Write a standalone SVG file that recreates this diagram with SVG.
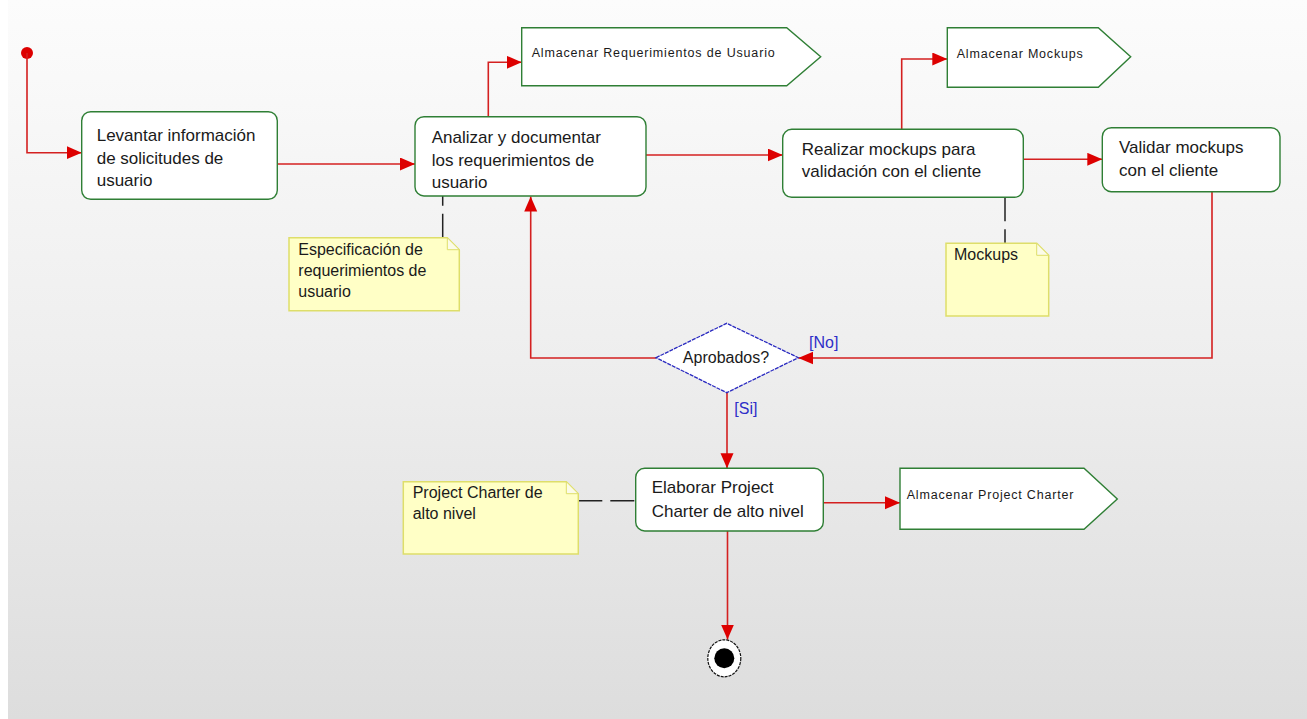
<svg xmlns="http://www.w3.org/2000/svg" width="1307" height="719" viewBox="0 0 1307 719">
<defs>
<linearGradient id="bg" x1="0" y1="0" x2="0" y2="1">
<stop offset="0" stop-color="#fcfcfc"/>
<stop offset="0.5" stop-color="#eeeeee"/>
<stop offset="1" stop-color="#dddddd"/>
</linearGradient>
<marker id="arr" markerUnits="userSpaceOnUse" markerWidth="16" markerHeight="14" refX="15" refY="6.5" orient="auto">
<path d="M0,0 L15,6.5 L0,13 Z" fill="#dd0000"/>
</marker>
<style>
.act{fill:#ffffff;stroke:#2f7f35;stroke-width:1.4}
.sig{fill:#ffffff;stroke:#2f7f35;stroke-width:1.4}
.note{fill:#ffffc6;stroke:#dede6a;stroke-width:1.5}
.fold{fill:#fbfbe8;stroke:#dede6a;stroke-width:1}
.t{font-family:"Liberation Sans",Arial,sans-serif;font-size:17px;fill:#1a1a1a}
.tn{font-family:"Liberation Sans",Arial,sans-serif;font-size:16px;fill:#1a1a1a}
.ts{font-family:"Liberation Sans",Arial,sans-serif;font-size:12.5px;fill:#1a1a1a}
.g{font-family:"Liberation Sans",Arial,sans-serif;font-size:16px;fill:#2e2ec8}
.e{fill:none;stroke:#d42020;stroke-width:1.6}
.na{fill:none;stroke:#222222;stroke-width:1.5;stroke-dasharray:24,8}
</style>
</defs>
<rect x="0" y="0" width="1307" height="719" fill="#ffffff"/>
<rect x="8" y="0" width="1299" height="719" fill="url(#bg)"/>

<g id="start"><circle cx="27" cy="53" r="6" fill="#dd0000"/></g>

<g id="connectors">
<path class="e" d="M27,53 V152.7 H81.7" marker-end="url(#arr)"/>
<path class="e" d="M277.3,164 H415" marker-end="url(#arr)"/>
<path class="e" d="M488.3,116.7 V62.3 H521.7" marker-end="url(#arr)"/>
<path class="e" d="M646,155 H782.7" marker-end="url(#arr)"/>
<path class="e" d="M901.7,129.3 V59 H947.3" marker-end="url(#arr)"/>
<path class="e" d="M1023.3,159.3 H1102.3" marker-end="url(#arr)"/>
<path class="e" d="M1212,191.7 V358 H798.3" marker-end="url(#arr)"/>
<path class="e" d="M656,358 H530.7 V196.5" marker-end="url(#arr)"/>
<path class="e" d="M727,392.7 V468.3" marker-end="url(#arr)"/>
<path class="e" d="M823.3,502.7 H900" marker-end="url(#arr)"/>
<path class="e" d="M727.5,531 V639.5" marker-end="url(#arr)"/>
<path class="na" d="M442.7,237.7 V196"/>
<path class="na" d="M1005,197.3 V243.3"/>
<path class="na" d="M578.3,500.7 H635.7"/>
<text class="g" x="809" y="347.7">[No]</text>
<text class="g" x="734.3" y="414">[Si]</text>
</g>

<g id="act1">
<rect class="act" x="81.7" y="111.7" width="195.6" height="87.6" rx="9"/>
<text class="t" x="96.7" y="140.7">Levantar información</text>
<text class="t" x="96.7" y="163.5">de solicitudes de</text>
<text class="t" x="96.7" y="186.3">usuario</text>
</g>

<g id="act2">
<rect class="act" x="415" y="116.7" width="231" height="79.3" rx="9"/>
<text class="t" x="431.7" y="142.7">Analizar y documentar</text>
<text class="t" x="431.7" y="165.5">los requerimientos de</text>
<text class="t" x="431.7" y="188.3">usuario</text>
</g>

<g id="sig1">
<path class="sig" d="M521.7,27.7 H786.7 L820.7,56.7 L786.7,85.7 H521.7 Z"/>
<text class="ts" x="531.7" y="57.3" textLength="243" lengthAdjust="spacing">Almacenar Requerimientos de Usuario</text>
</g>

<g id="act3">
<rect class="act" x="782.7" y="129.3" width="240.6" height="68" rx="9"/>
<text class="t" x="801.7" y="154.5">Realizar mockups para</text>
<text class="t" x="801.7" y="177.3">validación con el cliente</text>
</g>

<g id="sig2">
<path class="sig" d="M947.3,27.7 H1098.3 L1130.7,56.7 L1098.3,87.3 H947.3 Z"/>
<text class="ts" x="956.7" y="57.7" textLength="126" lengthAdjust="spacing">Almacenar Mockups</text>
</g>

<g id="act4">
<rect class="act" x="1102.3" y="127.7" width="177.7" height="64" rx="9"/>
<text class="t" x="1119" y="153.3">Validar mockups</text>
<text class="t" x="1119" y="176.3">con el cliente</text>
</g>

<g id="note1">
<path class="note" d="M289,237.7 H447.3 L459.3,249.7 V310.7 H289 Z"/>
<path class="fold" d="M447.3,237.7 V249.7 H459.3 Z"/>
<text class="tn" x="298.3" y="255">Especificación de</text>
<text class="tn" x="298.3" y="276.2">requerimientos de</text>
<text class="tn" x="298.3" y="297.4">usuario</text>
</g>

<g id="note2">
<path class="note" d="M946,243.3 H1036.7 L1048.7,255.3 V316 H946 Z"/>
<path class="fold" d="M1036.7,243.3 V255.3 H1048.7 Z"/>
<text class="tn" x="954" y="260">Mockups</text>
</g>

<g id="decision">
<path d="M656,357.7 L726.7,323.3 L798.3,357.7 L726.7,392.7 Z" fill="#ffffff" stroke="#2a2ac0" stroke-width="1.3" stroke-dasharray="4,1"/>
<text class="tn" x="726" y="363.3" text-anchor="middle">Aprobados?</text>
</g>

<g id="act5">
<rect class="act" x="635.7" y="468.3" width="187.6" height="62.7" rx="9"/>
<text class="t" x="651.7" y="493.3">Elaborar Project</text>
<text class="t" x="651.7" y="516.5">Charter de alto nivel</text>
</g>

<g id="note3">
<path class="note" d="M403.3,481.7 H566.3 L578.3,493.7 V554 H403.3 Z"/>
<path class="fold" d="M566.3,481.7 V493.7 H578.3 Z"/>
<text class="tn" x="412.7" y="498.3">Project Charter de</text>
<text class="tn" x="412.7" y="519.3">alto nivel</text>
</g>

<g id="sig3">
<path class="sig" d="M900,468.3 H1084 L1117.3,499 L1084,529.3 H900 Z"/>
<text class="ts" x="906.7" y="499.3" textLength="166.7" lengthAdjust="spacing">Almacenar Project Charter</text>
</g>

<g id="end">
<ellipse cx="724.3" cy="658.3" rx="16.5" ry="18.5" fill="#ffffff" stroke="#111111" stroke-width="1.2" stroke-dasharray="3,1"/>
<circle cx="724.3" cy="658.3" r="10" fill="#000000"/>
</g>
</svg>
